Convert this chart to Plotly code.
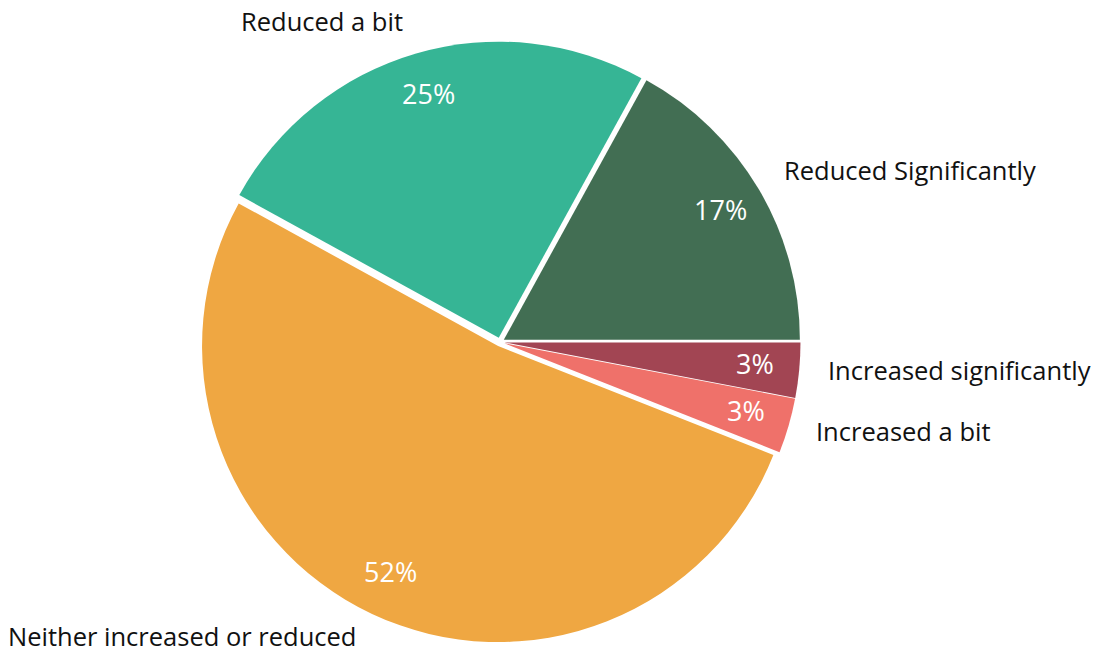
import numpy as np
import plotly.graph_objects as go

# Survey answers, listed counter-clockwise from 3 o'clock
labels = ["Reduced Significantly", "Reduced a bit", "Neither increased or reduced",
          "Increased a bit", "Increased significantly"]
values = [17, 25, 52, 3, 3]
colors = ["#426E53", "#36B595", "#EFA742", "#EF716A", "#A24553"]

W, H = 1107, 653
FONT = "Open Sans"
LABEL_SIZE = 25.5

# pie geometry in pixels
CX, CY = 500, 342
HALF = 300.5
PULL = 0.015
R = HALF / (1 + PULL)
LABEL_R = R * 1.088
PCT_R = R * 0.865

dom_x = [(CX - 500) / W, (CX + 500) / W]
dom_y = [(H - CY - HALF) / H, (H - CY + HALF) / H]

frac = np.array(values, dtype=float) / sum(values)
# plotly puts the end of the first counter-clockwise slice at `rotation`;
# offset it so the first slice begins exactly at 3 o'clock
rotation = 90 - 360 * frac[0]

fig = go.Figure()
fig.add_trace(go.Pie(
    labels=labels,
    values=values,
    sort=False,
    direction="counterclockwise",
    rotation=rotation,
    pull=[PULL] * len(values),
    marker=dict(colors=colors, line=dict(width=0)),
    textinfo="none",
    domain=dict(x=dom_x, y=dom_y),
    showlegend=False,
    hoverinfo="label+percent",
))

mid = np.radians((np.cumsum(frac) - frac / 2) * 360)


def to_paper(px, py):
    return px / W, (H - py) / H


for name, f, a in zip(labels, frac, mid):
    c, s = np.cos(a), np.sin(a)

    # share of answers, near the rim inside the slice
    x, y = to_paper(CX + PCT_R * c, CY - PCT_R * s)
    fig.add_annotation(
        x=x, y=y, xref="paper", yref="paper",
        text=f"{round(f * 100):.0f}%", showarrow=False,
        xanchor="center", yanchor="middle", yshift=2.5,
        font=dict(family=FONT, size=27, color="white"),
    )

    # category name just outside the rim, kept inside the page
    right = c >= 0
    px = CX + LABEL_R * c
    py = CY - LABEL_R * s
    shift = 3.5 + 8.5 * s
    box_half = LABEL_SIZE * 1.3 / 2
    shift = max(shift, (py + box_half) - H)
    x, y = to_paper(px, py)
    fig.add_annotation(
        x=x, y=y, xref="paper", yref="paper",
        text=name, showarrow=False,
        xanchor="left" if right else "right", yanchor="middle",
        xshift=6 if right else -6,
        yshift=shift,
        borderpad=0,
        font=dict(family=FONT, size=LABEL_SIZE, color="#111111"),
    )

fig.update_layout(
    width=W, height=H,
    margin=dict(l=0, r=0, t=0, b=0),
    paper_bgcolor="white",
    plot_bgcolor="white",
    showlegend=False,
)

fig.write_html("out.html")
